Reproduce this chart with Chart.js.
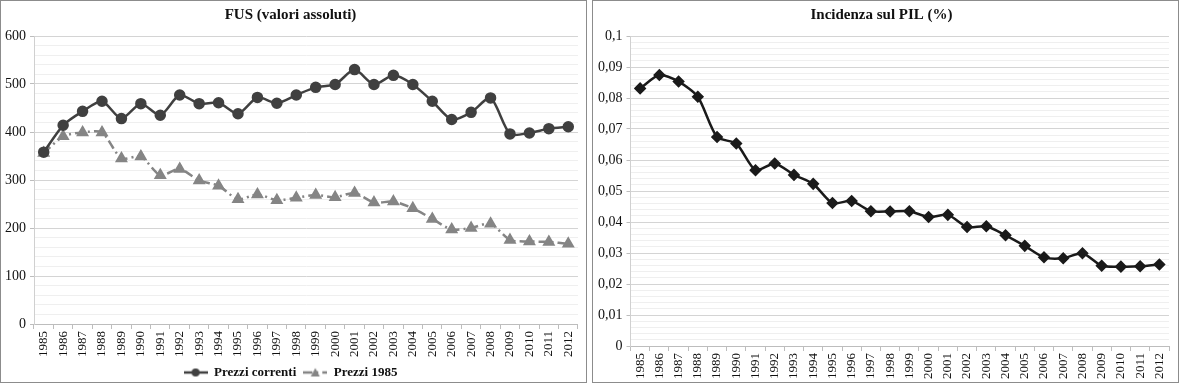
<!DOCTYPE html>
<html>
<head>
<meta charset="utf-8">
<script src="https://cdn.jsdelivr.net/npm/chart.js@4"></script>
<style>
  body { margin: 0; background: #fff; }
  .box { position: absolute; top: 0; width: 585px; height: 381px; border: 1px solid #8c8c8c; }
  #b1 { left: 0; }
  #b2 { left: 592px; }
</style>
</head>
<body>
<div class="box" id="b1"><canvas id="fus" width="585" height="381"></canvas></div>
<div class="box" id="b2"><canvas id="pil" width="585" height="381"></canvas></div>
<script>
const anni = ['1985','1986','1987','1988','1989','1990','1991','1992','1993','1994','1995','1996','1997','1998',
  '1999','2000','2001','2002','2003','2004','2005','2006','2007','2008','2009','2010','2011','2012'];

const prezziCorrenti = [358, 414, 443, 464, 428, 459, 435, 477, 459, 461, 438, 472, 460, 477,
  493, 499, 530, 499, 518, 499, 464, 426, 441, 471, 396, 398, 407, 411];

const prezzi1985 = [356, 391, 399, 399, 345, 349, 310, 323, 299, 288, 260, 270, 258, 263,
  269, 264, 273, 253, 255, 241, 219, 197, 200, 209, 175, 172, 171, 167];

const incidenzaPil = [0.0831, 0.0874, 0.0853, 0.0804, 0.0674, 0.0653, 0.0567, 0.0589, 0.0552, 0.0523,
  0.0461, 0.0468, 0.0435, 0.0434, 0.0435, 0.0416, 0.0423, 0.0384, 0.0386, 0.0357, 0.0323, 0.0286,
  0.0283, 0.0299, 0.0259, 0.0256, 0.0257, 0.0263];

const serif = "'Liberation Serif', 'Times New Roman', serif";
Chart.defaults.font.family = serif;
Chart.defaults.color = '#111';

// small legend icon: line segment with the marker in the middle
function legendIcon(color, dash, marker) {
  const c = document.createElement('canvas');
  c.width = 24; c.height = 12;
  const g = c.getContext('2d');
  g.strokeStyle = color; g.lineWidth = 2.5;
  g.setLineDash(dash);
  g.beginPath(); g.moveTo(0, 6); g.lineTo(24, 6); g.stroke();
  g.fillStyle = color;
  g.beginPath();
  if (marker === 'circle') g.arc(12, 6, 4, 0, Math.PI * 2);
  else { g.moveTo(12, 1.5); g.lineTo(16.5, 10); g.lineTo(7.5, 10); g.closePath(); }
  g.fill();
  return c;
}

function xAxis() {
  return {
    offset: true,
    grid: { drawOnChartArea: false, offset: true, color: '#bdbdbd', tickLength: 5 },
    border: { color: '#bdbdbd' },
    ticks: { autoSkip: false, maxRotation: 90, minRotation: 90, padding: 2, font: { size: 13 }, color: '#111' }
  };
}

function yAxis(max, step, isMajor, fmt) {
  return {
    min: 0, max: max,
    border: { color: '#d0d0d0' },
    grid: {
      color: c => isMajor(c.tick.value) ? '#d4d4d4' : '#efefef',
      tickColor: c => isMajor(c.tick.value) ? '#bdbdbd' : 'rgba(0,0,0,0)',
      tickLength: 4
    },
    ticks: {
      stepSize: step, maxTicksLimit: 100, autoSkip: false, padding: 4,
      font: { size: 14 }, color: '#111',
      callback: v => isMajor(v) ? fmt(v) : ''
    }
  };
}

new Chart(document.getElementById('fus'), {
  type: 'line',
  data: {
    labels: anni,
    datasets: [
      {
        label: 'Prezzi correnti',
        data: prezziCorrenti,
        borderColor: '#404040', backgroundColor: '#404040',
        borderWidth: 2.5, tension: 0.25,
        pointStyle: 'circle', pointRadius: 4.5
      },
      {
        label: 'Prezzi 1985',
        data: prezzi1985,
        borderColor: '#858585', backgroundColor: '#858585',
        borderWidth: 2.5, tension: 0.25, borderDash: [9, 4, 2, 4],
        pointStyle: 'triangle', pointRadius: 5
      }
    ]
  },
  options: {
    responsive: false, animation: false,
    layout: { padding: { top: 5, left: 0, right: 6, bottom: -7 } },
    plugins: {
      title: { display: true, text: 'FUS (valori assoluti)', font: { size: 15, weight: 'bold' }, color: '#111',
        padding: { top: 0, bottom: 12 } },
      legend: {
        position: 'bottom',
        labels: {
          font: { size: 13, weight: 'bold' }, color: '#111', padding: 7, usePointStyle: true,
          pointStyleWidth: 24,
          generateLabels: chart => chart.data.datasets.map((ds, i) => ({
            text: ds.label, datasetIndex: i, fontColor: '#111',
            pointStyle: legendIcon(ds.borderColor, ds.borderDash || [], ds.pointStyle),
            lineWidth: 0, strokeStyle: 'rgba(0,0,0,0)', fillStyle: 'rgba(0,0,0,0)'
          }))
        }
      },
      tooltip: { enabled: false }
    },
    scales: {
      x: xAxis(),
      y: yAxis(600, 20, v => v % 100 === 0, v => String(v))
    }
  }
});

new Chart(document.getElementById('pil'), {
  type: 'line',
  data: {
    labels: anni,
    datasets: [
      {
        label: 'Incidenza sul PIL (%)',
        data: incidenzaPil,
        borderColor: '#1a1a1a', backgroundColor: '#1a1a1a',
        borderWidth: 2.5, tension: 0.25,
        pointStyle: 'rectRot', pointRadius: 4.5
      }
    ]
  },
  options: {
    responsive: false, animation: false,
    layout: { padding: { top: 5, left: 1, right: 9, bottom: 1 } },
    plugins: {
      title: { display: true, text: 'Incidenza sul PIL (%)', font: { size: 15, weight: 'bold' }, color: '#111',
        padding: { top: 0, bottom: 12 } },
      legend: { display: false },
      tooltip: { enabled: false }
    },
    scales: {
      x: xAxis(),
      y: yAxis(0.1, 0.002, v => Math.abs(v * 100 - Math.round(v * 100)) < 1e-6,
        v => String(Math.round(v * 100) / 100).replace('.', ','))
    }
  }
});
</script>
</body>
</html>
